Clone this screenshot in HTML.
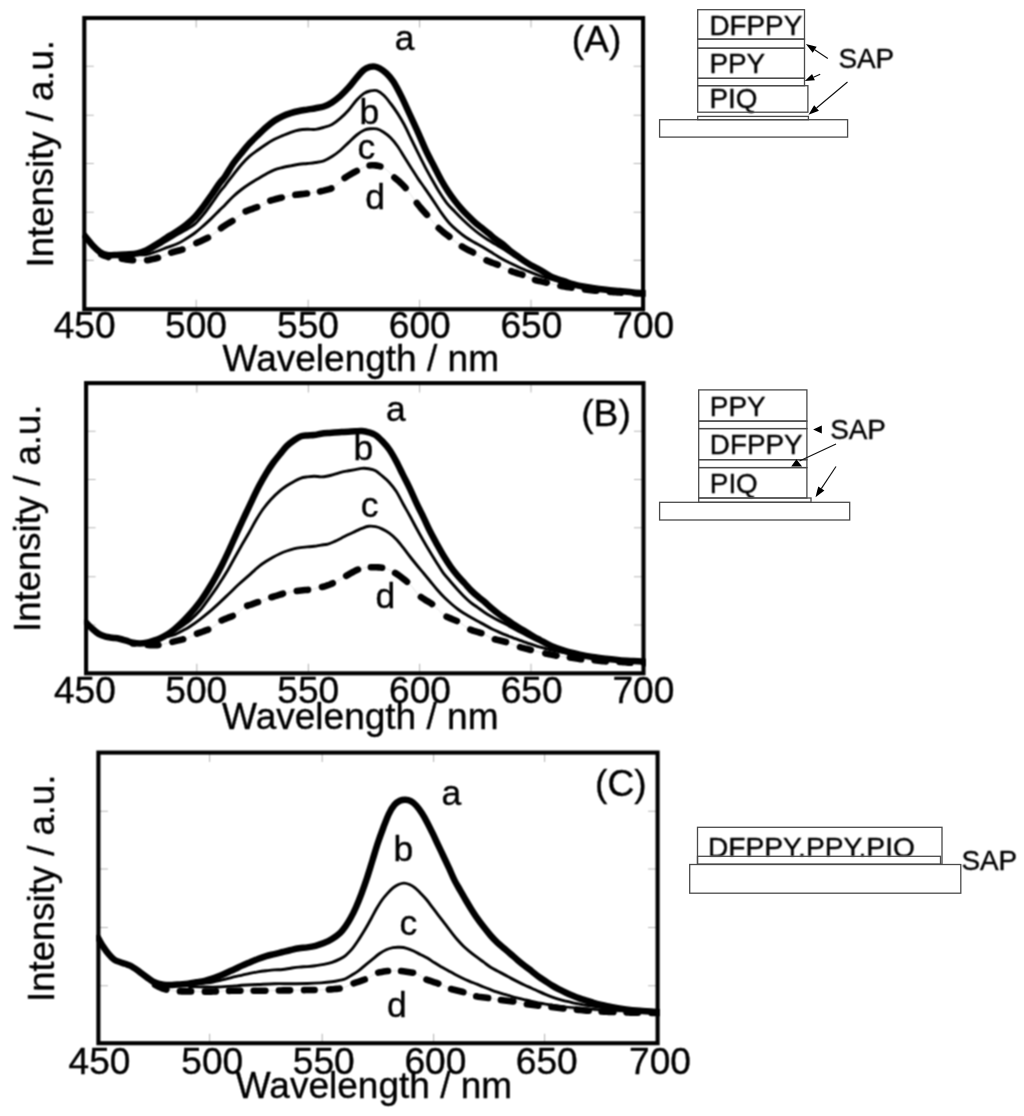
<!DOCTYPE html>
<html lang="en"><head><meta charset="utf-8">
<title>Emission spectra of layered SAP films</title>
<style>
html,body{margin:0;padding:0;background:#fff;}
body{width:1024px;height:1116px;overflow:hidden;}
svg{display:block;}
svg text{font-family:"Liberation Sans", Arial, Helvetica, sans-serif;fill:#000;stroke:#000;stroke-width:0.35px;stroke-linejoin:round;}
</style></head><body>
<svg width="1024" height="1116" viewBox="0 0 1024 1116" role="img" aria-label="Emission spectra (A), (B), (C) with layer diagrams">
<rect width="1024" height="1116" fill="#fff"/>
<defs>
<filter id="soft" x="0" y="0" width="1024" height="1116" filterUnits="userSpaceOnUse" color-interpolation-filters="sRGB"><feConvolveMatrix order="3" kernelMatrix="1 2 1 2 4 2 1 2 1"/></filter>
<clipPath id="clipA"><rect x="82.1" y="18" width="563.4" height="291.2"/></clipPath>
<clipPath id="clipB"><rect x="83.9" y="383.1" width="562" height="290.2"/></clipPath>
<clipPath id="clipC"><rect x="96.2" y="752.6" width="563.8" height="290.6"/></clipPath>
<clipPath id="clipD"><rect x="698" y="827" width="244" height="29.3"/></clipPath>
</defs>
<g filter="url(#soft)">
<rect width="1024" height="1116" fill="#fff"/>
<g id="plotA">
<g stroke="#b8b8b8" stroke-width="1.1" fill="none">
<path d="M84.3 66.3h9.5 M643.1 66.3h-9.5"/>
<path d="M84.3 115.3h9.5 M643.1 115.3h-9.5"/>
<path d="M84.3 163.5h9.5 M643.1 163.5h-9.5"/>
<path d="M84.3 212.3h9.5 M643.1 212.3h-9.5"/>
<path d="M84.3 260.4h9.5 M643.1 260.4h-9.5"/>
<path d="M196.2 18v9.5 M196.2 309.2v-9.5"/>
<path d="M308.2 18v9.5 M308.2 309.2v-9.5"/>
<path d="M419.6 18v9.5 M419.6 309.2v-9.5"/>
<path d="M531 18v9.5 M531 309.2v-9.5"/>
</g>
<g fill="none" stroke="#000" stroke-linejoin="round" clip-path="url(#clipA)">
<path d="M137.1 254.8C138.7 254.77 143.5 255.15 146.7 254.6C149.9 254.05 152.87 252.7 156.3 251.5C159.73 250.3 163.63 248.77 167.3 247.4C170.97 246.03 175.1 244.78 178.3 243.3C181.5 241.82 183.75 240.22 186.5 238.5C189.25 236.78 192.05 235.07 194.8 233C197.55 230.93 200.27 228.5 203 226.1C205.73 223.7 208.47 221.22 211.2 218.6C213.93 215.98 217.1 212.68 219.4 210.4C221.7 208.12 222.7 207.22 225 204.9C227.3 202.58 230.45 199.07 233.2 196.5C235.95 193.93 238.75 191.62 241.5 189.5C244.25 187.38 246.97 185.58 249.7 183.8C252.43 182.02 255.15 180.43 257.9 178.8C260.65 177.17 263.45 175.5 266.2 174C268.95 172.5 271.67 170.88 274.4 169.8C277.13 168.72 279.87 168.17 282.6 167.5C285.33 166.83 288.05 166.33 290.8 165.8C293.55 165.27 296.35 164.68 299.1 164.3C301.85 163.92 304.57 163.8 307.3 163.5C310.03 163.2 312.75 162.95 315.5 162.5C318.25 162.05 321.05 161.8 323.8 160.8C326.55 159.8 329.27 158.22 332 156.5C334.73 154.78 337.45 152.82 340.2 150.5C342.95 148.18 345.75 145.18 348.5 142.6C351.25 140.02 354.12 137.07 356.7 135C359.28 132.93 361.78 131.23 364 130.2C366.22 129.17 367.85 129.02 370 128.8C372.15 128.58 374.62 128.32 376.9 128.9C379.18 129.48 381.42 130.82 383.7 132.3C385.98 133.78 388.32 135.52 390.6 137.8C392.88 140.08 395.12 142.8 397.4 146C399.68 149.2 402 153.33 404.3 157C406.6 160.67 408.92 164.4 411.2 168C413.48 171.6 415.72 175.2 418 178.6C420.28 182 422.47 184.9 424.9 188.4C427.33 191.9 429.88 195.57 432.6 199.6C435.32 203.63 438.4 208.67 441.2 212.6C444 216.53 446.67 220.15 449.4 223.2C452.13 226.25 454.87 228.55 457.6 230.9C460.33 233.25 463.05 235.42 465.8 237.3C468.55 239.18 471.35 240.62 474.1 242.2C476.85 243.78 479.57 245.2 482.3 246.8C485.03 248.4 487.75 250.1 490.5 251.8C493.25 253.5 496.05 255.38 498.8 257C501.55 258.62 503.98 259.97 507 261.5C510.02 263.03 513.3 264.55 516.9 266.2C520.5 267.85 524.7 269.77 528.6 271.4C532.5 273.03 536.57 274.73 540.3 276C544.03 277.27 546.95 277.87 551 279C555.05 280.13 560 281.58 564.6 282.8C569.2 284.02 576.27 285.72 578.6 286.3" stroke-width="2.9"/>
<path d="M137.1 254.4C138.48 254.1 142.65 253.57 145.4 252.6C148.15 251.63 150.87 250.03 153.6 248.6C156.33 247.17 159.07 245.6 161.8 244C164.53 242.4 167.25 240.67 170 239C172.75 237.33 175.55 235.58 178.3 234C181.05 232.42 183.75 231.13 186.5 229.5C189.25 227.87 192.05 226.58 194.8 224.2C197.55 221.82 200.27 218.53 203 215.2C205.73 211.87 208.47 207.98 211.2 204.2C213.93 200.42 217.1 195.6 219.4 192.5C221.7 189.4 222.7 188.55 225 185.6C227.3 182.65 230.45 178.32 233.2 174.8C235.95 171.28 238.75 167.6 241.5 164.5C244.25 161.4 246.97 158.62 249.7 156.2C252.43 153.78 255.15 152 257.9 150C260.65 148 263.45 145.98 266.2 144.2C268.95 142.42 271.67 140.73 274.4 139.3C277.13 137.87 279.87 136.77 282.6 135.6C285.33 134.43 288.05 133.23 290.8 132.3C293.55 131.37 296.35 130.5 299.1 130C301.85 129.5 304.57 129.4 307.3 129.3C310.03 129.2 312.75 129.72 315.5 129.4C318.25 129.08 321.05 128.22 323.8 127.4C326.55 126.58 329.27 126 332 124.5C334.73 123 337.45 120.78 340.2 118.4C342.95 116.02 345.75 113.27 348.5 110.2C351.25 107.13 354.12 102.8 356.7 100C359.28 97.2 361.78 94.9 364 93.4C366.22 91.9 367.85 91.45 370 91C372.15 90.55 374.62 89.98 376.9 90.7C379.18 91.42 381.42 93.17 383.7 95.3C385.98 97.43 388.32 100.53 390.6 103.5C392.88 106.47 395.12 109.55 397.4 113.1C399.68 116.65 402 120.48 404.3 124.8C406.6 129.12 408.92 134.32 411.2 139C413.48 143.68 415.72 148.3 418 152.9C420.28 157.5 422.62 162.25 424.9 166.6C427.18 170.95 429.43 174.97 431.7 179C433.97 183.03 436.02 186.83 438.5 190.8C440.98 194.77 443.87 199.32 446.6 202.8C449.33 206.28 452.15 208.83 454.9 211.7C457.65 214.57 460.37 217.37 463.1 220C465.83 222.63 468.55 225.13 471.3 227.5C474.05 229.87 476.85 232.15 479.6 234.2C482.35 236.25 485.07 238.07 487.8 239.8C490.53 241.53 493.47 243.1 496 244.6C498.53 246.1 500.67 247.33 503 248.8C505.33 250.27 507.67 251.9 510 253.4C512.33 254.9 514.67 256.33 517 257.8C519.33 259.27 521.67 260.8 524 262.2C526.33 263.6 528.3 264.77 531 266.2C533.7 267.63 538.67 270.03 540.2 270.8" stroke-width="2.9"/>
<path d="M100 253.5C101.17 254.02 104.83 255.88 107 256.6C109.17 257.32 110.95 257.5 113 257.8C115.05 258.1 116.88 258.1 119.3 258.4C121.72 258.7 124.75 259.27 127.5 259.6C130.25 259.93 132.82 260.27 135.8 260.4C138.78 260.53 142.53 260.63 145.4 260.4C148.27 260.17 150.48 259.57 153 259C155.52 258.43 157.77 257.97 160.5 257C163.23 256.03 166.65 254.2 169.4 253.2C172.15 252.2 174.38 251.77 177 251C179.62 250.23 182.27 249.73 185.1 248.6C187.93 247.47 191.18 245.55 194 244.2C196.82 242.85 199.25 241.83 202 240.5C204.75 239.17 207.72 237.98 210.5 236.2C213.28 234.42 216.03 231.75 218.7 229.8C221.37 227.85 223.87 226.2 226.5 224.5C229.13 222.8 231.68 221.58 234.5 219.6C237.32 217.62 240.48 214.37 243.4 212.6C246.32 210.83 249.13 210.12 252 209C254.87 207.88 257.92 207.13 260.6 205.9C263.28 204.67 265.53 202.75 268.1 201.6C270.67 200.45 273.25 199.77 276 199C278.75 198.23 281.8 197.63 284.6 197C287.4 196.37 290.07 195.67 292.8 195.2C295.53 194.73 298.15 194.55 301 194.2C303.85 193.85 307.03 193.5 309.9 193.1C312.77 192.7 315.52 192.32 318.2 191.8C320.88 191.28 323.38 190.77 326 190C328.62 189.23 331.07 189 333.9 187.2C336.73 185.4 340.15 181.4 343 179.2C345.85 177 348.27 175.6 351 174C353.73 172.4 357.07 170.8 359.4 169.6C361.73 168.4 363.23 167.5 365 166.8C366.77 166.1 368 165.6 370 165.4C372 165.2 374.72 165.23 377 165.6C379.28 165.97 381.78 166.62 383.7 167.6C385.62 168.58 386.9 170.02 388.5 171.5C390.1 172.98 391.38 174.72 393.3 176.5C395.22 178.28 397.63 179.92 400 182.2C402.37 184.48 405.22 187.43 407.5 190.2C409.78 192.97 411.62 196 413.7 198.8C415.78 201.6 417.83 204.38 420 207C422.17 209.62 423.97 211.37 426.7 214.5C429.43 217.63 433.68 222.92 436.4 225.8C439.12 228.68 440.72 229.88 443 231.8C445.28 233.72 447.32 235.1 450.1 237.3C452.88 239.5 456.88 243 459.7 245C462.52 247 464.6 247.97 467 249.3C469.4 250.63 471.27 251.35 474.1 253C476.93 254.65 481.1 257.63 484 259.2C486.9 260.77 489 261.38 491.5 262.4C494 263.42 496.05 263.97 499 265.3C501.95 266.63 506.25 269.12 509.2 270.4C512.15 271.68 514.18 272.17 516.7 273C519.22 273.83 521.53 274.33 524.3 275.4C527.07 276.47 530.43 278.38 533.3 279.4C536.17 280.42 538.77 280.85 541.5 281.5C544.23 282.15 546.95 282.67 549.7 283.3C552.45 283.93 555.28 284.72 558 285.3C560.72 285.88 563.27 286.35 566 286.8C568.73 287.25 571.62 287.6 574.4 288C577.18 288.4 579.93 288.83 582.7 289.2C585.47 289.57 588.25 289.9 591 290.2C593.75 290.5 596.47 290.75 599.2 291C601.93 291.25 604.67 291.48 607.4 291.7C610.13 291.92 612.85 292.12 615.6 292.3C618.35 292.48 621.15 292.65 623.9 292.8C626.65 292.95 628.33 293.07 632.1 293.2C635.87 293.33 644.1 293.53 646.5 293.6" stroke="#e2e2e2" stroke-width="0.9"/>
<path d="M101.3 254.3L103.12 255.19L104.89 255.89L106.59 256.46L108.4 257.01M121.8 258.76L123.8 259.07L125.93 259.39L128.01 259.66L130.04 259.91L132.07 260.13L133 260.21M147.2 260.2L148.87 259.92L150.7 259.53L152.53 259.11L154.39 258.69L156.21 258.26L158 257.79M171.2 252.6L173.25 252.01L175.1 251.53L177 251L178.97 250.46L180.97 249.94L182.4 249.53M196.4 243.08L198.03 242.34L199.99 241.45L202 240.5L204.1 239.52L205.7 238.77L207.31 237.99L208 237.64M221 228.16L222.61 227.06L224.55 225.77L226.5 224.5L228.46 223.3L230.43 222.16L232.4 220.98M245.7 211.39L247.72 210.56L249.32 209.97L250.93 209.4L252.54 208.79L254.18 208.22L255.82 207.67L257.2 207.22M270.3 200.72L271.98 200.16L273.97 199.57L276 199L278.11 198.45L279.74 198.07L281.37 197.71L281.8 197.62M295.4 194.82L297.36 194.6L299.42 194.38L301.54 194.13L303.19 193.94L304.88 193.74L306.58 193.53L307 193.48M320 191.45L321.64 191.1L323.57 190.65L325.51 190.14L327.46 189.61L329.38 189.12L331.34 188.49L331.4 188.47M344.6 178.01L346.55 176.69L348.51 175.47L350.49 174.3L352.59 173.1L354.24 172.22L355.9 171.37L356.8 170.91M369.6 165.45L371.62 165.3L373.39 165.29L375.22 165.39L377 165.6L378.74 165.93L380.4 166.34M394.4 177.47L396.06 178.82L397.78 180.23L399.56 181.78L401.38 183.55L403.3 185.51L405.23 187.58L405.6 188M416.8 202.94L418.79 205.51L420.4 207.48L422.35 209.7L424.37 211.9L426.2 213.93L427 214.85M438.7 228.11L440.62 229.82L442.58 231.45L444.26 232.83L445.94 234.12L447.68 235.44L449.4 236.75M461.9 246.46L463.51 247.4L465.24 248.35L467 249.3L468.72 250.21L470.39 251.03L472.13 251.91L473.1 252.43M486.5 260.42L488.35 261.18L490.13 261.86L491.96 262.59L493.75 263.25L495.53 263.9L497.43 264.62L497.8 264.78M511.2 271.21L513.11 271.87L514.88 272.42L516.7 273L518.56 273.58L520.41 274.11L522.3 274.69L522.4 274.73M535 279.95L536.94 280.47L538.96 280.93L540.99 281.38L543.04 281.85L545.08 282.3L546.8 282.66M560.4 285.79L562.49 286.19L564.48 286.54L566.51 286.88L568.6 287.2L570.71 287.49L571.6 287.61M585 289.5L586.86 289.72L588.93 289.97L591 290.2L593.06 290.42L595.11 290.62L596.4 290.74M609.8 291.89L611.49 292.01L613.54 292.16L615.6 292.3L617.67 292.43L619.75 292.56L621.2 292.65M634.6 293.28L636.63 293.34L638.75 293.4L640.86 293.45L642.86 293.5L644.6 293.55L646 293.59" stroke-width="6.6" stroke-linecap="round"/>
<path d="M83.5 234.5C83.98 235.05 84.78 235.88 86.4 237.8C88.02 239.72 90.92 243.6 93.2 246C95.48 248.4 97.8 250.72 100.1 252.2C102.4 253.68 104.25 254.43 107 254.9C109.75 255.37 113.4 255.08 116.6 255C119.8 254.92 122.78 254.67 126.2 254.4C129.62 254.13 133.9 254.03 137.1 253.4C140.3 252.77 142.65 251.83 145.4 250.6C148.15 249.37 150.87 247.6 153.6 246C156.33 244.4 159.07 242.73 161.8 241C164.53 239.27 167.25 237.35 170 235.6C172.75 233.85 175.55 232.35 178.3 230.5C181.05 228.65 183.75 226.75 186.5 224.5C189.25 222.25 192.05 219.93 194.8 217C197.55 214.07 200.27 210.48 203 206.9C205.73 203.32 208.47 199.4 211.2 195.5C213.93 191.6 217.1 186.67 219.4 183.5C221.7 180.33 222.7 179.83 225 176.5C227.3 173.17 230.45 167.42 233.2 163.5C235.95 159.58 238.75 156.37 241.5 153C244.25 149.63 246.97 146.28 249.7 143.3C252.43 140.32 255.15 137.77 257.9 135.1C260.65 132.43 263.45 129.68 266.2 127.3C268.95 124.92 271.67 122.65 274.4 120.8C277.13 118.95 279.87 117.48 282.6 116.2C285.33 114.92 288.05 113.97 290.8 113.1C293.55 112.23 296.35 111.58 299.1 111C301.85 110.42 304.57 110.07 307.3 109.6C310.03 109.13 312.75 108.72 315.5 108.2C318.25 107.68 321.05 107.47 323.8 106.5C326.55 105.53 329.27 104.13 332 102.4C334.73 100.67 337.45 98.55 340.2 96.1C342.95 93.65 345.75 90.78 348.5 87.7C351.25 84.62 354.12 80.58 356.7 77.6C359.28 74.62 361.78 71.58 364 69.8C366.22 68.02 368.17 67.43 370 66.9C371.83 66.37 373.42 66.37 375 66.6C376.58 66.83 377.58 67.18 379.5 68.3C381.42 69.42 384.2 71.1 386.5 73.3C388.8 75.5 390.8 77.62 393.3 81.5C395.8 85.38 398.75 91.1 401.5 96.6C404.25 102.1 407.05 108.55 409.8 114.5C412.55 120.45 415.27 126.22 418 132.3C420.73 138.38 423.48 145.25 426.2 151C428.92 156.75 431.8 161.97 434.3 166.8C436.8 171.63 438.92 175.93 441.2 180C443.48 184.07 445.72 187.72 448 191.2C450.28 194.68 452.62 197.92 454.9 200.9C457.18 203.88 459.42 206.53 461.7 209.1C463.98 211.67 466.35 214.05 468.6 216.3C470.85 218.55 472.92 220.6 475.2 222.6C477.48 224.6 479.97 226.43 482.3 228.3C484.63 230.17 487 231.98 489.2 233.8C491.4 235.62 493.22 237.45 495.5 239.2C497.78 240.95 500.48 242.37 502.9 244.3C505.32 246.23 507.68 248.92 510 250.8C512.32 252.68 514.52 253.97 516.8 255.6C519.08 257.23 521.33 259 523.7 260.6C526.07 262.2 528.25 263.63 531 265.2C533.75 266.77 536.83 268.08 540.2 270C543.57 271.92 547.13 274.8 551.2 276.7C555.27 278.6 560.03 279.9 564.6 281.4C569.17 282.9 573.98 284.6 578.6 285.7C583.22 286.8 587.73 287.32 592.3 288C596.87 288.68 601.43 289.28 606 289.8C610.57 290.32 615.12 290.67 619.7 291.1C624.28 291.53 629.03 292.05 633.5 292.4C637.97 292.75 644.33 293.07 646.5 293.2" stroke-width="6.5"/>
</g>
<rect x="84.3" y="18" width="558.8" height="291.2" fill="none" stroke="#000" stroke-width="4.1"/>
<text transform="translate(84.6 338.3) scale(1.02 1)" font-size="36.4" text-anchor="middle">450</text>
<text transform="translate(196 338.3) scale(1.02 1)" font-size="36.4" text-anchor="middle">500</text>
<text transform="translate(308 338.3) scale(1.02 1)" font-size="36.4" text-anchor="middle">550</text>
<text transform="translate(419.8 338.3) scale(1.02 1)" font-size="36.4" text-anchor="middle">600</text>
<text transform="translate(531.4 338.3) scale(1.02 1)" font-size="36.4" text-anchor="middle">650</text>
<text transform="translate(643.3 338.3) scale(1.02 1)" font-size="36.4" text-anchor="middle">700</text>
<text transform="translate(222.6 370.5) scale(1.02 1)" font-size="36.3" text-anchor="start">Wavelength / nm</text>
<text transform="translate(52.8 267.4) rotate(-90) scale(1 1)" font-size="36.5" text-anchor="start">Intensity / a.u.</text>
<text transform="translate(571.7 52.2)" font-size="37.2" text-anchor="start">(A)</text>
<text transform="translate(394.7 50.2)" font-size="35.5" text-anchor="start">a</text>
<text transform="translate(359.5 124.2)" font-size="35.5" text-anchor="start">b</text>
<text transform="translate(357.6 158.8)" font-size="35.5" text-anchor="start">c</text>
<text transform="translate(365.3 208.5)" font-size="35.5" text-anchor="start">d</text>
</g>
<g id="plotB">
<g stroke="#b8b8b8" stroke-width="1.1" fill="none">
<path d="M86.1 431.3h9.5 M643.5 431.3h-9.5"/>
<path d="M86.1 479.5h9.5 M643.5 479.5h-9.5"/>
<path d="M86.1 527.8h9.5 M643.5 527.8h-9.5"/>
<path d="M86.1 576.8h9.5 M643.5 576.8h-9.5"/>
<path d="M86.1 625h9.5 M643.5 625h-9.5"/>
<path d="M196.8 383.1v9.5 M196.8 673.3v-9.5"/>
<path d="M308.4 383.1v9.5 M308.4 673.3v-9.5"/>
<path d="M419.6 383.1v9.5 M419.6 673.3v-9.5"/>
<path d="M531 383.1v9.5 M531 673.3v-9.5"/>
</g>
<g fill="none" stroke="#000" stroke-linejoin="round" clip-path="url(#clipB)">
<path d="M167.3 636.6C168.55 636.27 172.35 635.53 174.8 634.6C177.25 633.67 179.53 632.32 182 631C184.47 629.68 186.7 628.57 189.6 626.7C192.5 624.83 196.12 622.27 199.4 619.8C202.68 617.33 206.02 614.68 209.3 611.9C212.58 609.12 215.82 606.13 219.1 603.1C222.38 600.07 225.72 596.83 229 593.7C232.28 590.57 235.52 587.32 238.8 584.3C242.08 581.28 246 578.02 248.7 575.6C251.4 573.18 253.23 571.38 255 569.8C256.77 568.22 257.43 567.52 259.3 566.1C261.17 564.68 263.92 562.78 266.2 561.3C268.48 559.82 270.72 558.47 273 557.2C275.28 555.93 277.62 554.73 279.9 553.7C282.18 552.67 284.42 551.8 286.7 551C288.98 550.2 291.32 549.47 293.6 548.9C295.88 548.33 298.12 547.93 300.4 547.6C302.68 547.27 305 547.13 307.3 546.9C309.6 546.67 311.92 546.5 314.2 546.2C316.48 545.9 318.72 545.45 321 545.1C323.28 544.75 325.62 544.72 327.9 544.1C330.18 543.48 332.42 542.42 334.7 541.4C336.98 540.38 339.3 539.15 341.6 538C343.9 536.85 346.22 535.6 348.5 534.5C350.78 533.4 353.07 532.42 355.3 531.4C357.53 530.38 359.67 529.25 361.9 528.4C364.13 527.55 366.42 526.58 368.7 526.3C370.98 526.02 373.32 526.23 375.6 526.7C377.88 527.17 380.12 528.02 382.4 529.1C384.68 530.18 387 531.5 389.3 533.2C391.6 534.9 393.92 536.93 396.2 539.3C398.48 541.67 400.72 544.53 403 547.4C405.28 550.27 407.62 553.57 409.9 556.5C412.18 559.43 414.42 562.2 416.7 565C418.98 567.8 421.38 570.63 423.6 573.3C425.82 575.97 427.77 578.3 430 581C432.23 583.7 434.63 586.78 437 589.5C439.37 592.22 441.78 594.88 444.2 597.3C446.62 599.72 449.15 601.97 451.5 604C453.85 606.03 456.02 607.83 458.3 609.5C460.58 611.17 462.92 612.58 465.2 614C467.48 615.42 469.72 616.7 472 618C474.28 619.3 476.6 620.53 478.9 621.8C481.2 623.07 483.52 624.37 485.8 625.6C488.08 626.83 490.32 628.08 492.6 629.2C494.88 630.32 497.22 631.3 499.5 632.3C501.78 633.3 504.02 634.28 506.3 635.2C508.58 636.12 510.92 636.93 513.2 637.8C515.48 638.67 517.7 639.57 520 640.4C522.3 641.23 524.1 641.8 527 642.8C529.9 643.8 534.28 645.43 537.4 646.4C540.52 647.37 542.77 647.87 545.7 648.6C548.63 649.33 551.78 650.1 555 650.8C558.22 651.5 561.07 652.07 565 652.8C568.93 653.53 576.33 654.8 578.6 655.2" stroke-width="2.9"/>
<path d="M160.4 639C161.98 638.1 166.68 635.48 169.9 633.6C173.12 631.72 176.27 630 179.7 627.7C183.13 625.4 187.05 622.75 190.5 619.8C193.95 616.85 197.27 613.62 200.4 610C203.53 606.38 206.55 601.87 209.3 598.1C212.05 594.33 214.78 590.5 216.9 587.4C219.02 584.3 220.05 582.62 222 579.5C223.95 576.38 226.35 572.58 228.6 568.7C230.85 564.82 233.2 560.32 235.5 556.2C237.8 552.08 240.1 548 242.4 544C244.7 540 247 536.23 249.3 532.2C251.6 528.17 253.9 523.67 256.2 519.8C258.5 515.93 260.65 512.4 263.1 509C265.55 505.6 268.1 502.42 270.9 499.4C273.7 496.38 277.27 493.17 279.9 490.9C282.53 488.63 284.42 487.33 286.7 485.8C288.98 484.27 291.32 482.95 293.6 481.7C295.88 480.45 298.12 479.1 300.4 478.3C302.68 477.5 305 477.25 307.3 476.9C309.6 476.55 311.92 476.2 314.2 476.2C316.48 476.2 318.72 476.93 321 476.9C323.28 476.87 325.62 476.45 327.9 476C330.18 475.55 332.42 474.85 334.7 474.2C336.98 473.55 339.3 472.67 341.6 472.1C343.9 471.53 346.22 471.22 348.5 470.8C350.78 470.38 353.07 470 355.3 469.6C357.53 469.2 359.67 468.55 361.9 468.4C364.13 468.25 366.42 468.3 368.7 468.7C370.98 469.1 373.32 469.55 375.6 470.8C377.88 472.05 380.12 474.27 382.4 476.2C384.68 478.13 387 479.88 389.3 482.4C391.6 484.92 393.92 487.75 396.2 491.3C398.48 494.85 400.72 499.58 403 503.7C405.28 507.82 407.68 511.95 409.9 516C412.12 520.05 414.17 524.08 416.3 528C418.43 531.92 420.53 535.7 422.7 539.5C424.87 543.3 427.05 547.05 429.3 550.8C431.55 554.55 433.92 558.37 436.2 562C438.48 565.63 440.7 569.43 443 572.6C445.3 575.77 447.67 578.27 450 581C452.33 583.73 454.7 586.47 457 589C459.3 591.53 461.55 593.98 463.8 596.2C466.05 598.42 468.22 600.43 470.5 602.3C472.78 604.17 475.2 605.75 477.5 607.4C479.8 609.05 482.02 610.7 484.3 612.2C486.58 613.7 488.78 615 491.2 616.4C493.62 617.8 496.33 619.28 498.8 620.6C501.27 621.92 503.63 623.02 506 624.3C508.37 625.58 510.67 627.02 513 628.3C515.33 629.58 517.67 630.78 520 632C522.33 633.22 524.17 634.17 527 635.6C529.83 637.03 533 638.77 537 640.6C541 642.43 548.67 645.6 551 646.6" stroke-width="2.9"/>
<path d="M133 643.4C135.28 643.67 142.87 644.7 146.7 645C150.53 645.3 153.28 645.33 156 645.2C158.72 645.07 160.68 644.65 163 644.2C165.32 643.75 167.4 643.12 169.9 642.5C172.4 641.88 175.22 641.2 178 640.5C180.78 639.8 183.85 639.28 186.6 638.3C189.35 637.32 191.68 635.77 194.5 634.6C197.32 633.43 200.47 632.48 203.5 631.3C206.53 630.12 210.02 629.13 212.7 627.5C215.38 625.87 217.05 623.12 219.6 621.5C222.15 619.88 225.2 619.02 228 617.8C230.8 616.58 233.7 615.97 236.4 614.2C239.1 612.43 241.6 608.87 244.2 607.2C246.8 605.53 249.37 605.17 252 604.2C254.63 603.23 257.17 602.43 260 601.4C262.83 600.37 266.17 598.97 269 598C271.83 597.03 274.25 596.43 277 595.6C279.75 594.77 282.67 593.72 285.5 593C288.33 592.28 291.17 591.75 294 591.3C296.83 590.85 299.67 590.6 302.5 590.3C305.33 590 308.17 589.95 311 589.5C313.83 589.05 316.75 588.28 319.5 587.6C322.25 586.92 324.88 586.33 327.5 585.4C330.12 584.47 332.52 583.33 335.2 582C337.88 580.67 340.8 578.98 343.6 577.4C346.4 575.82 349.17 573.97 352 572.5C354.83 571.03 357.82 569.45 360.6 568.6C363.38 567.75 366.05 567.62 368.7 567.4C371.35 567.18 373.87 567.17 376.5 567.3C379.13 567.43 381.83 567.5 384.5 568.2C387.17 568.9 389.92 570.17 392.5 571.5C395.08 572.83 397.03 573.98 400 576.2C402.97 578.42 407.22 581.67 410.3 584.8C413.38 587.93 415.88 592.42 418.5 595C421.12 597.58 423.48 598.6 426 600.3C428.52 602 430.62 602.75 433.6 605.2C436.58 607.65 440.83 612.7 443.9 615C446.97 617.3 449.37 617.77 452 619C454.63 620.23 456.93 620.77 459.7 622.4C462.47 624.03 465.88 627.28 468.6 628.8C471.32 630.32 473.48 630.63 476 631.5C478.52 632.37 480.93 632.83 483.7 634C486.47 635.17 489.72 637.37 492.6 638.5C495.48 639.63 498.27 640.07 501 640.8C503.73 641.53 506.13 641.93 509 642.9C511.87 643.87 515.37 645.63 518.2 646.6C521.03 647.57 523.48 648.03 526 648.7C528.52 649.37 530.48 649.9 533.3 650.6C536.12 651.3 539.95 652.23 542.9 652.9C545.85 653.57 548.25 654.05 551 654.6C553.75 655.15 556.75 655.8 559.4 656.2C562.05 656.6 564.22 656.63 566.9 657C569.58 657.37 572.65 657.97 575.5 658.4C578.35 658.83 581.2 659.33 584 659.6C586.8 659.87 589.55 659.78 592.3 660C595.05 660.22 597.75 660.63 600.5 660.9C603.25 661.17 606.28 661.48 608.8 661.6C611.32 661.72 613.07 661.5 615.6 661.6C618.13 661.7 621.25 662 624 662.2C626.75 662.4 628.35 662.63 632.1 662.8C635.85 662.97 644.1 663.13 646.5 663.2" stroke="#e2e2e2" stroke-width="0.9"/>
<path d="M133 643.4L133.9 643.51M147.8 645.08L150.01 645.21L151.77 645.26L153.41 645.27L155.49 645.22L157.46 645.1L158.4 644.99M172.4 641.89L174.36 641.4L176.43 640.89L178.53 640.37L180.13 640L181.77 639.63L183.2 639.29M197 633.64L198.92 632.96L200.64 632.35L202.36 631.73L204.07 631.08L205.84 630.44L207.63 629.79L208.2 629.58M221.6 620.41L223.71 619.5L225.32 618.87L226.94 618.24L229.05 617.37L231.18 616.59L232.8 615.99M247.2 605.74L249.06 605.13L251.02 604.54L252.98 603.84L254.94 603.16L256.92 602.49L258 602.11M271.4 597.23L273.03 596.75L274.99 596.19L277 595.6L279.09 594.94L281.22 594.26L282.83 593.75L283 593.7M296.8 590.91L298.78 590.69L300.91 590.47L303.03 590.25L305.16 590.07L307.28 589.92L308 589.86M322 586.99L324.05 586.46L326.03 585.89L327.99 585.22L329.9 584.47L331.8 583.64L332.8 583.17M346.2 575.87L348.31 574.59L350.41 573.36L352.53 572.22L354.15 571.39L355.78 570.58L357.4 569.82L358 569.56M370.9 567.26L372.61 567.22L374.54 567.23L376.5 567.3L378.49 567.4L380.49 567.54L382.1 567.72M395.1 572.92L397 574.09L398.93 575.42L400.57 576.63L402.43 578.04L404.43 579.61L406.47 581.29L407 581.74M420.9 597.04L422.75 598.27L424.6 599.4L426.47 600.61L428.28 601.7L430.08 602.74L432.01 603.98L432.1 604.05M446.6 616.69L448.6 617.6L450.54 618.37L452.49 619.22L454.4 620.01L456.27 620.74L456.9 621M470.3 629.63L471.93 630.25L473.72 630.8L475.53 631.34L477.41 631.95L479.28 632.5L481.2 633.08L481.4 633.15M494.8 639.25L496.86 639.8L498.94 640.29L501 640.8L503 641.3L504.95 641.76L506 642.02M520 647.17L521.74 647.64L523.65 648.11L525.53 648.58L527.37 649.06L529.1 649.52L530.8 649.97M545.3 653.43L547.03 653.79L548.99 654.2L551 654.6L553.1 655.03L554.7 655.35L556.3 655.66L556.5 655.7M569.9 657.47L571.69 657.77L573.33 658.05L574.96 658.32L576.57 658.57L578.17 658.82L580.3 659.14L581.2 659.27M594.6 660.22L596.4 660.43L598.45 660.68L600.5 660.9L602.6 661.11L604.21 661.26L605.8 661.4M619.4 661.84L621.34 661.99L622.95 662.12L624.98 662.28L626.78 662.43L628.61 662.59L630.6 662.72M644.1 663.14L645.98 663.19L646.5 663.2" stroke-width="6.6" stroke-linecap="round"/>
<path d="M84 619.5C84.4 620.07 85.08 621.42 86.4 622.9C87.72 624.38 89.85 626.57 91.9 628.4C93.95 630.23 96.42 632.53 98.7 633.9C100.98 635.27 103.32 635.97 105.6 636.6C107.88 637.23 110.12 637.35 112.4 637.7C114.68 638.05 117 638.2 119.3 638.7C121.6 639.2 123.92 640.02 126.2 640.7C128.48 641.38 130.72 642.33 133 642.8C135.28 643.27 137.62 643.5 139.9 643.5C142.18 643.5 144.42 643.27 146.7 642.8C148.98 642.33 151.32 641.47 153.6 640.7C155.88 639.93 158.12 639.23 160.4 638.2C162.68 637.17 165 635.97 167.3 634.5C169.6 633.03 171.92 631.25 174.2 629.4C176.48 627.55 178.72 625.6 181 623.4C183.28 621.2 185.62 618.68 187.9 616.2C190.18 613.72 192.42 611.27 194.7 608.5C196.98 605.73 199.3 602.85 201.6 599.6C203.9 596.35 206.22 592.68 208.5 589C210.78 585.32 213.02 581.58 215.3 577.5C217.58 573.42 220.08 568.67 222.2 564.5C224.32 560.33 226.17 556.42 228 552.5C229.83 548.58 231.42 544.95 233.2 541C234.98 537.05 236.63 533.3 238.7 528.8C240.77 524.3 243.32 518.87 245.6 514C247.88 509.13 250.12 504.33 252.4 499.6C254.68 494.87 257 489.97 259.3 485.6C261.6 481.23 263.92 477.17 266.2 473.4C268.48 469.63 270.72 466.18 273 463C275.28 459.82 277.62 457.12 279.9 454.3C282.18 451.48 284.42 448.38 286.7 446.1C288.98 443.82 291.32 442.2 293.6 440.6C295.88 439 298.12 437.37 300.4 436.5C302.68 435.63 305 435.65 307.3 435.4C309.6 435.15 311.92 435.28 314.2 435C316.48 434.72 318.72 434.03 321 433.7C323.28 433.37 325.62 433.18 327.9 433C330.18 432.82 332.42 432.75 334.7 432.6C336.98 432.45 339.3 432.25 341.6 432.1C343.9 431.95 346.22 431.83 348.5 431.7C350.78 431.57 353.07 431.4 355.3 431.3C357.53 431.2 359.67 430.93 361.9 431.1C364.13 431.27 366.42 431.63 368.7 432.3C370.98 432.97 373.32 433.6 375.6 435.1C377.88 436.6 380.12 438.9 382.4 441.3C384.68 443.7 387 446.18 389.3 449.5C391.6 452.82 393.92 456.97 396.2 461.2C398.48 465.43 400.72 470.33 403 474.9C405.28 479.47 407.62 483.8 409.9 488.6C412.18 493.4 414.42 498.87 416.7 503.7C418.98 508.53 421.33 512.92 423.6 517.6C425.87 522.28 428.03 527.3 430.3 531.8C432.57 536.3 434.92 540.48 437.2 544.6C439.48 548.72 441.72 552.75 444 556.5C446.28 560.25 448.63 563.92 450.9 567.1C453.17 570.28 455.33 572.93 457.6 575.6C459.87 578.27 462.22 580.6 464.5 583.1C466.78 585.6 469.02 588.32 471.3 590.6C473.58 592.88 475.92 594.85 478.2 596.8C480.48 598.75 482.72 600.35 485 602.3C487.28 604.25 489.6 606.55 491.9 608.5C494.2 610.45 496.52 612.28 498.8 614C501.08 615.72 503.32 617.2 505.6 618.8C507.88 620.4 510.22 622.08 512.5 623.6C514.78 625.12 517.02 626.5 519.3 627.9C521.58 629.3 523.9 630.62 526.2 632C528.5 633.38 530.8 634.87 533.1 636.2C535.4 637.53 536.98 638.37 540 640C543.02 641.63 547.05 644.18 551.2 646C555.35 647.82 560.33 649.52 564.9 650.9C569.47 652.28 574.03 653.28 578.6 654.3C583.17 655.32 587.73 656.25 592.3 657C596.87 657.75 601.43 658.27 606 658.8C610.57 659.33 615.12 659.82 619.7 660.2C624.28 660.58 629.03 660.83 633.5 661.1C637.97 661.37 644.33 661.68 646.5 661.8" stroke-width="6.5"/>
</g>
<rect x="86.1" y="383.1" width="557.4" height="290.2" fill="none" stroke="#000" stroke-width="4.1"/>
<text transform="translate(84.9 702.7) scale(1.02 1)" font-size="36.4" text-anchor="middle">450</text>
<text transform="translate(196.3 702.7) scale(1.02 1)" font-size="36.4" text-anchor="middle">500</text>
<text transform="translate(308.2 702.7) scale(1.02 1)" font-size="36.4" text-anchor="middle">550</text>
<text transform="translate(420 702.7) scale(1.02 1)" font-size="36.4" text-anchor="middle">600</text>
<text transform="translate(531.6 702.7) scale(1.02 1)" font-size="36.4" text-anchor="middle">650</text>
<text transform="translate(643.4 702.7) scale(1.02 1)" font-size="36.4" text-anchor="middle">700</text>
<text transform="translate(222.1 728.8) scale(1.02 1)" font-size="36.3" text-anchor="start">Wavelength / nm</text>
<text transform="translate(39.8 631.9) rotate(-90) scale(1 1)" font-size="36.5" text-anchor="start">Intensity / a.u.</text>
<text transform="translate(581.2 425.6)" font-size="37.2" text-anchor="start">(B)</text>
<text transform="translate(386.1 420.7)" font-size="35.5" text-anchor="start">a</text>
<text transform="translate(353.6 459.9)" font-size="35.5" text-anchor="start">b</text>
<text transform="translate(360.8 517.1)" font-size="35.5" text-anchor="start">c</text>
<text transform="translate(375.6 608.2)" font-size="35.5" text-anchor="start">d</text>
</g>
<g id="plotC">
<g stroke="#b8b8b8" stroke-width="1.1" fill="none">
<path d="M98.4 811.2h9.5 M657.6 811.2h-9.5"/>
<path d="M98.4 869h9.5 M657.6 869h-9.5"/>
<path d="M98.4 927.5h9.5 M657.6 927.5h-9.5"/>
<path d="M98.4 985.8h9.5 M657.6 985.8h-9.5"/>
<path d="M209.6 752.6v9.5 M209.6 1043.2v-9.5"/>
<path d="M322.2 752.6v9.5 M322.2 1043.2v-9.5"/>
<path d="M433.6 752.6v9.5 M433.6 1043.2v-9.5"/>
<path d="M544.6 752.6v9.5 M544.6 1043.2v-9.5"/>
</g>
<g fill="none" stroke="#000" stroke-linejoin="round" clip-path="url(#clipC)">
<path d="M188.3 986.6C191.03 986.67 199.67 986.93 204.7 987C209.73 987.07 213.45 987.18 218.5 987C223.55 986.82 231.17 986.18 235 985.9C238.83 985.62 237.68 985.53 241.5 985.3C245.32 985.07 252.42 984.77 257.9 984.5C263.38 984.23 268.92 983.83 274.4 983.7C279.88 983.57 285.32 983.73 290.8 983.7C296.28 983.67 302.27 983.63 307.3 983.5C312.33 983.37 316.88 983.18 321 982.9C325.12 982.62 328.8 982.25 332 981.8C335.2 981.35 337.95 980.7 340.2 980.2C342.45 979.7 343.55 979.67 345.5 978.8C347.45 977.93 349.7 976.35 351.9 975C354.1 973.65 356.42 972.4 358.7 970.7C360.98 969 363.32 966.7 365.6 964.8C367.88 962.9 370.12 961.13 372.4 959.3C374.68 957.47 377 955.4 379.3 953.8C381.6 952.2 383.92 950.73 386.2 949.7C388.48 948.67 390.72 948 393 947.6C395.28 947.2 397.62 947.18 399.9 947.3C402.18 947.42 404.42 947.68 406.7 948.3C408.98 948.92 411.32 949.97 413.6 951C415.88 952.03 418.12 953.32 420.4 954.5C422.68 955.68 425 956.75 427.3 958.1C429.6 959.45 431.92 961.17 434.2 962.6C436.48 964.03 438.72 965.4 441 966.7C443.28 968 445.62 969.13 447.9 970.4C450.18 971.67 452.42 973.08 454.7 974.3C456.98 975.52 459.3 976.62 461.6 977.7C463.9 978.78 465.95 979.72 468.5 980.8C471.05 981.88 474.37 983.17 476.9 984.2C479.43 985.23 481.42 986.08 483.7 987C485.98 987.92 488.32 988.83 490.6 989.7C492.88 990.57 495.12 991.43 497.4 992.2C499.68 992.97 502 993.62 504.3 994.3C506.6 994.98 508.92 995.67 511.2 996.3C513.48 996.93 515.72 997.52 518 998.1C520.28 998.68 522.62 999.25 524.9 999.8C527.18 1000.35 529.42 1000.9 531.7 1001.4C533.98 1001.9 536.32 1002.35 538.6 1002.8C540.88 1003.25 543.12 1003.68 545.4 1004.1C547.68 1004.52 550 1004.92 552.3 1005.3C554.6 1005.68 556.92 1006.07 559.2 1006.4C561.48 1006.73 562.58 1006.95 566 1007.3C569.42 1007.65 575.12 1008.13 579.7 1008.5C584.28 1008.87 588.12 1009.15 593.5 1009.5C598.88 1009.85 605.92 1010.28 612 1010.6C618.08 1010.92 627 1011.27 630 1011.4" stroke-width="2.9"/>
<path d="M188.3 984.6C189.67 984.47 193.77 984.07 196.5 983.8C199.23 983.53 201.95 983.3 204.7 983C207.45 982.7 210.25 982.47 213 982C215.75 981.53 218.47 980.83 221.2 980.2C223.93 979.57 227.1 978.8 229.4 978.2C231.7 977.6 232.98 977.08 235 976.6C237.02 976.12 239.05 975.83 241.5 975.3C243.95 974.77 246.97 973.97 249.7 973.4C252.43 972.83 255.15 972.33 257.9 971.9C260.65 971.47 263.45 971.13 266.2 970.8C268.95 970.47 271.67 970.12 274.4 969.9C277.13 969.68 279.87 969.78 282.6 969.5C285.33 969.22 288.05 968.6 290.8 968.2C293.55 967.8 296.35 967.37 299.1 967.1C301.85 966.83 304.57 966.83 307.3 966.6C310.03 966.37 312.75 966.07 315.5 965.7C318.25 965.33 321.05 964.97 323.8 964.4C326.55 963.83 329.27 963.22 332 962.3C334.73 961.38 337.95 960.02 340.2 958.9C342.45 957.78 343.55 957.22 345.5 955.6C347.45 953.98 349.7 951.87 351.9 949.2C354.1 946.53 356.42 943.03 358.7 939.6C360.98 936.17 363.47 932.2 365.6 928.6C367.73 925 369.67 921.33 371.5 918C373.33 914.67 374.85 911.6 376.6 908.6C378.35 905.6 380.18 902.53 382 900C383.82 897.47 385.67 895.42 387.5 893.4C389.33 891.38 391.17 889.38 393 887.9C394.83 886.42 396.67 885.3 398.5 884.5C400.33 883.7 402.17 883.1 404 883.1C405.83 883.1 407.67 883.7 409.5 884.5C411.33 885.3 413.17 886.45 415 887.9C416.83 889.35 418.6 891.27 420.5 893.2C422.4 895.13 424.38 897.1 426.4 899.5C428.42 901.9 430.53 904.88 432.6 907.6C434.67 910.32 436.77 913.13 438.8 915.8C440.83 918.47 442.78 920.97 444.8 923.6C446.82 926.23 448.83 928.95 450.9 931.6C452.97 934.25 455.1 937.07 457.2 939.5C459.3 941.93 461.37 944.15 463.5 946.2C465.63 948.25 467.77 949.97 470 951.8C472.23 953.63 474.62 955.47 476.9 957.2C479.18 958.93 481.42 960.53 483.7 962.2C485.98 963.87 488.32 965.73 490.6 967.2C492.88 968.67 495.12 969.77 497.4 971C499.68 972.23 502 973.37 504.3 974.6C506.6 975.83 508.92 977.18 511.2 978.4C513.48 979.62 515.72 980.77 518 981.9C520.28 983.03 522.62 984.15 524.9 985.2C527.18 986.25 529.42 987.17 531.7 988.2C533.98 989.23 536.32 990.37 538.6 991.4C540.88 992.43 543.12 993.45 545.4 994.4C547.68 995.35 550 996.27 552.3 997.1C554.6 997.93 556.92 998.72 559.2 999.4C561.48 1000.08 563.72 1000.63 566 1001.2C568.28 1001.77 570.62 1002.32 572.9 1002.8C575.18 1003.28 577.42 1003.68 579.7 1004.1C581.98 1004.52 584.3 1004.93 586.6 1005.3C588.9 1005.67 591.22 1005.98 593.5 1006.3C595.78 1006.62 597.17 1006.82 600.3 1007.2C603.43 1007.58 608.02 1008.13 612.3 1008.6C616.58 1009.07 621.38 1009.6 626 1010C630.62 1010.4 637.67 1010.83 640 1011" stroke-width="2.9"/>
<path d="M152.5 983.5C154.25 984.35 158.98 987.33 163 988.6C167.02 989.87 171.58 990.63 176.6 991.1C181.62 991.57 187.53 991.32 193.1 991.4C198.67 991.48 204.52 991.68 210 991.6C215.48 991.52 220.65 991.03 226 990.9C231.35 990.77 236.52 990.82 242.1 990.8C247.68 990.78 253.88 990.85 259.5 990.8C265.12 990.75 270.35 990.58 275.8 990.5C281.25 990.42 286.75 990.38 292.2 990.3C297.65 990.22 304.27 990.07 308.5 990C312.73 989.93 314.6 989.97 317.6 989.9C320.6 989.83 323.77 989.73 326.5 989.6C329.23 989.47 331.48 989.33 334 989.1C336.52 988.87 339.43 988.67 341.6 988.2C343.77 987.73 345.4 986.97 347 986.3C348.6 985.63 349.13 985.02 351.2 984.2C353.27 983.38 356.67 982.38 359.4 981.4C362.13 980.42 364.85 979.63 367.6 978.3C370.35 976.97 373.22 974.52 375.9 973.4C378.58 972.28 381.08 972.03 383.7 971.6C386.32 971.17 388.9 970.92 391.6 970.8C394.3 970.68 397.08 970.7 399.9 970.9C402.72 971.1 405.65 971.5 408.5 972C411.35 972.5 414.22 972.73 417 973.9C419.78 975.07 422.45 977.67 425.2 979C427.95 980.33 430.75 980.93 433.5 981.9C436.25 982.87 438.97 983.68 441.7 984.8C444.43 985.92 447.18 987.6 449.9 988.6C452.62 989.6 455.25 990.08 458 990.8C460.75 991.52 463.6 992.03 466.4 992.9C469.2 993.77 472.03 995.27 474.8 996C477.57 996.73 480.25 996.88 483 997.3C485.75 997.72 488.55 998.08 491.3 998.5C494.05 998.92 496.77 999.42 499.5 999.8C502.23 1000.18 504.95 1000.45 507.7 1000.8C510.45 1001.15 513.25 1001.38 516 1001.9C518.75 1002.42 521.47 1003.4 524.2 1003.9C526.93 1004.4 529.67 1004.57 532.4 1004.9C535.13 1005.23 537.73 1005.6 540.6 1005.9C543.47 1006.2 546.8 1006.4 549.6 1006.7C552.4 1007 554.78 1007.38 557.4 1007.7C560.02 1008.02 562.48 1008.32 565.3 1008.6C568.12 1008.88 571.48 1009.13 574.3 1009.4C577.12 1009.67 579.58 1009.95 582.2 1010.2C584.82 1010.45 587.2 1010.7 590 1010.9C592.8 1011.1 595.33 1011.22 599 1011.4C602.67 1011.58 607.5 1011.82 612 1012C616.5 1012.18 621.33 1012.37 626 1012.5C630.67 1012.63 634.33 1012.72 640 1012.8C645.67 1012.88 656.67 1012.97 660 1013" stroke="#e2e2e2" stroke-width="0.9"/>
<path d="M155.1 984.91L156.9 985.89L159.14 987.03L161.47 988.05L163.76 988.83L166.11 989.46L166.4 989.53M179.9 991.31L181.53 991.36L183.6 991.39L185.7 991.39L187.82 991.39L189.94 991.38L191.1 991.38M204.9 991.61L206.88 991.62L208.97 991.61L211.02 991.58L213.05 991.52L215.06 991.43L215.9 991.39M229.1 990.84L230.98 990.82L232.97 990.81L234.96 990.8L236.97 990.8L239 990.8L240.4 990.8M253.7 990.82L256.29 990.82L258.44 990.81L260.55 990.79L262.62 990.76L264.67 990.73L265.4 990.71M278.9 990.46L280.92 990.43L282.97 990.41L285.03 990.39L287.08 990.37L289.13 990.34L290.1 990.33M304.1 990.08L305.89 990.05L307.68 990.01L309.98 989.98L311.88 989.96L313.51 989.95L314.6 989.94M328.9 989.47L330.79 989.36L332.61 989.22L334.48 989.06L336.44 988.88L338.42 988.68L339.6 988.54M353.6 983.34L355.6 982.68L357.26 982.14L358.88 981.58L360.94 980.86L362.98 980.16L364.8 979.5M378.2 972.62L379.82 972.24L381.75 971.91L383.7 971.6L385.66 971.31L387.62 971.08L388 971.04M401.1 971L403.11 971.2L404.73 971.41L406.35 971.65L407.96 971.91L409.57 972.18L411.17 972.43L412.78 972.7L413.1 972.76M426.5 979.58L428.31 980.25L430.39 980.91L432.47 981.55L434.53 982.26L436.58 982.95L438.3 983.53M451.1 989.01L452.93 989.55L454.94 990.05L456.97 990.54L459.04 991.06L461.13 991.55L463.24 992.04L463.4 992.08M476.3 996.35L478.4 996.7L480.44 996.96L482.49 997.22L484.55 997.53L486.63 997.83L488.1 998.03M500.9 999.99L502.57 1000.19L504.62 1000.43L506.67 1000.67L508.73 1000.93L510.81 1001.17L512.89 1001.42L513.3 1001.47M526.9 1004.3L528.81 1004.52L530.86 1004.73L532.91 1004.96L534.94 1005.22L536.96 1005.48L538.3 1005.64M551.5 1006.92L553.57 1007.19L555.47 1007.45L557.4 1007.7L559.34 1007.93L561.27 1008.16L563.25 1008.38L563.5 1008.41M576.9 1009.66L578.81 1009.86L580.74 1010.06L582.69 1010.25L584.6 1010.43L586.51 1010.61L588.46 1010.78L588.7 1010.8M601.6 1011.53L603.54 1011.62L605.19 1011.7L606.88 1011.78L608.59 1011.85L610.3 1011.93L612 1012L613.4 1012.06M626.6 1012.52L628.54 1012.57L630.17 1012.61L631.8 1012.65L633.46 1012.69L635.18 1012.72L637 1012.75L637.9 1012.77M651.6 1012.93L653.7 1012.94L656.27 1012.97L658.42 1012.99L660 1013" stroke-width="6.6" stroke-linecap="round"/>
<path d="M96.4 935C96.73 935.57 97.27 936.47 98.4 938.4C99.53 940.33 101.48 943.97 103.2 946.6C104.92 949.23 106.87 952.02 108.7 954.2C110.53 956.38 112.37 958.4 114.2 959.7C116.03 961 117.87 961.32 119.7 962C121.53 962.68 123.37 963.17 125.2 963.8C127.03 964.43 128.87 964.88 130.7 965.8C132.53 966.72 134.38 968.03 136.2 969.3C138.02 970.57 139.78 972.03 141.6 973.4C143.42 974.77 145.27 976.17 147.1 977.5C148.93 978.83 150.77 980.37 152.6 981.4C154.43 982.43 156.27 983.13 158.1 983.7C159.93 984.27 161.32 984.58 163.6 984.8C165.88 985.02 169.07 985.07 171.8 985C174.53 984.93 177.25 984.62 180 984.4C182.75 984.18 185.55 984.05 188.3 983.7C191.05 983.35 193.77 982.78 196.5 982.3C199.23 981.82 201.95 981.45 204.7 980.8C207.45 980.15 210.25 979.33 213 978.4C215.75 977.47 218.47 976.35 221.2 975.2C223.93 974.05 227.1 972.53 229.4 971.5C231.7 970.47 232.98 969.93 235 969C237.02 968.07 239.05 967 241.5 965.9C243.95 964.8 246.97 963.55 249.7 962.4C252.43 961.25 255.15 960.05 257.9 959C260.65 957.95 263.45 956.92 266.2 956.1C268.95 955.28 271.67 954.78 274.4 954.1C277.13 953.42 279.87 952.68 282.6 952C285.33 951.32 288.05 950.62 290.8 950C293.55 949.38 296.35 948.73 299.1 948.3C301.85 947.87 304.57 947.82 307.3 947.4C310.03 946.98 312.75 946.52 315.5 945.8C318.25 945.08 321.05 944.23 323.8 943.1C326.55 941.97 329.27 940.72 332 939C334.73 937.28 337.95 934.92 340.2 932.8C342.45 930.68 343.78 928.72 345.5 926.3C347.22 923.88 348.75 921.48 350.5 918.3C352.25 915.12 354.17 911.32 356 907.2C357.83 903.08 359.68 898.42 361.5 893.6C363.32 888.78 365.08 883.8 366.9 878.3C368.72 872.8 370.57 866.52 372.4 860.6C374.23 854.68 376.07 848.32 377.9 842.8C379.73 837.28 381.57 832.33 383.4 827.5C385.23 822.67 387.07 817.57 388.9 813.8C390.73 810.03 392.57 807.07 394.4 804.9C396.23 802.73 398.07 801.65 399.9 800.8C401.73 799.95 403.58 799.73 405.4 799.8C407.22 799.87 408.98 800.23 410.8 801.2C412.62 802.17 414.47 803.62 416.3 805.6C418.13 807.58 419.97 810.25 421.8 813.1C423.63 815.95 425.47 819.27 427.3 822.7C429.13 826.13 430.97 829.92 432.8 833.7C434.63 837.48 436.47 841.52 438.3 845.4C440.13 849.28 441.97 853.12 443.8 857C445.63 860.88 447.48 864.77 449.3 868.7C451.12 872.63 452.88 876.98 454.7 880.6C456.52 884.22 458.37 887.17 460.2 890.4C462.03 893.63 463.93 897 465.7 900C467.47 903 468.95 905.47 470.8 908.4C472.65 911.33 474.7 914.57 476.8 917.6C478.9 920.63 481.1 923.62 483.4 926.6C485.7 929.58 488.27 932.83 490.6 935.5C492.93 938.17 495.12 940.43 497.4 942.6C499.68 944.77 502 946.52 504.3 948.5C506.6 950.48 508.92 952.52 511.2 954.5C513.48 956.48 515.72 958.48 518 960.4C520.28 962.32 522.65 964.23 524.9 966C527.15 967.77 529.22 969.23 531.5 971C533.78 972.77 536.32 974.93 538.6 976.6C540.88 978.27 542.92 979.5 545.2 981C547.48 982.5 549.97 984.2 552.3 985.6C554.63 987 556.92 988.2 559.2 989.4C561.48 990.6 563.72 991.73 566 992.8C568.28 993.87 570.62 994.87 572.9 995.8C575.18 996.73 577.42 997.6 579.7 998.4C581.98 999.2 584.3 999.87 586.6 1000.6C588.9 1001.33 591.22 1002.13 593.5 1002.8C595.78 1003.47 597.17 1003.87 600.3 1004.6C603.43 1005.33 608.02 1006.4 612.3 1007.2C616.58 1008 621.43 1008.8 626 1009.4C630.57 1010 634.03 1010.33 639.7 1010.8C645.37 1011.27 656.62 1011.97 660 1012.2" stroke-width="6.5"/>
</g>
<rect x="98.4" y="752.6" width="559.2" height="290.6" fill="none" stroke="#000" stroke-width="4.1"/>
<text transform="translate(99.5 1073.7) scale(1.02 1)" font-size="36.4" text-anchor="middle">450</text>
<text transform="translate(212.2 1073.7) scale(1.02 1)" font-size="36.4" text-anchor="middle">500</text>
<text transform="translate(323.8 1073.7) scale(1.02 1)" font-size="36.4" text-anchor="middle">550</text>
<text transform="translate(435.4 1073.7) scale(1.02 1)" font-size="36.4" text-anchor="middle">600</text>
<text transform="translate(546.8 1073.7) scale(1.02 1)" font-size="36.4" text-anchor="middle">650</text>
<text transform="translate(660 1073.7) scale(1.02 1)" font-size="36.4" text-anchor="middle">700</text>
<text transform="translate(235.8 1098.3) scale(1.02 1)" font-size="36.3" text-anchor="start">Wavelength / nm</text>
<text transform="translate(53.6 1001.9) rotate(-90) scale(1 1)" font-size="36.5" text-anchor="start">Intensity / a.u.</text>
<text transform="translate(595 796.3)" font-size="37.2" text-anchor="start">(C)</text>
<text transform="translate(441.5 805)" font-size="35.5" text-anchor="start">a</text>
<text transform="translate(393.5 860.5)" font-size="35.5" text-anchor="start">b</text>
<text transform="translate(399.4 934.9)" font-size="35.5" text-anchor="start">c</text>
<text transform="translate(387 1017)" font-size="35.5" text-anchor="start">d</text>
</g>
<g id="dtext">
<text transform="translate(709.4 34.6) scale(1.01 1)" font-size="27.6" text-anchor="start">DFPPY</text>
<text transform="translate(709.4 72.8) scale(1.01 1)" font-size="27.6" text-anchor="start">PPY</text>
<text transform="translate(709.4 108.3) scale(1.01 1)" font-size="27.6" text-anchor="start">PIQ</text>
<text transform="translate(838.4 68) scale(1.01 1)" font-size="27.6" text-anchor="start">SAP</text>
<text transform="translate(709.8 415.5) scale(1.01 1)" font-size="27.6" text-anchor="start">PPY</text>
<text transform="translate(709.8 453.8) scale(1.01 1)" font-size="27.6" text-anchor="start">DFPPY</text>
<text transform="translate(709.8 492.8) scale(1.01 1)" font-size="27.6" text-anchor="start">PIQ</text>
<text transform="translate(830.2 438.8) scale(1.01 1)" font-size="27.6" text-anchor="start">SAP</text>
<g clip-path="url(#clipD)"><text transform="translate(707.9 856.9) scale(1.02 1)" font-size="27.6" text-anchor="start">DFPPY,PPY,PIQ</text></g>
<text transform="translate(961.4 870.3) scale(1.01 1)" font-size="27.6" text-anchor="start">SAP</text>
</g>
</g>
<g id="boxes" stroke="#4a4a4a" stroke-width="1.3" fill="none">
<rect x="659.6" y="119.7" width="188" height="17.4" fill="none"/>
<rect x="697.7" y="116.4" width="110.7" height="3.3" fill="none"/>
<rect x="697.7" y="85.7" width="110.2" height="26.5" fill="none"/>
<rect x="697.7" y="78.3" width="106.8" height="7.4" fill="none"/>
<rect x="697.7" y="48.2" width="106.8" height="30.1" fill="none"/>
<rect x="697.7" y="39.1" width="106.8" height="9.1" fill="none"/>
<rect x="697.7" y="9.7" width="106.8" height="29.4" fill="none"/>
<rect x="659.6" y="502.3" width="190.1" height="17.7" fill="none"/>
<rect x="698.7" y="498" width="112.3" height="4.3" fill="none"/>
<rect x="698.7" y="467.6" width="108.2" height="30.4" fill="none"/>
<rect x="698.7" y="459.7" width="108.2" height="7.9" fill="none"/>
<rect x="698.7" y="428.6" width="108.2" height="31.1" fill="none"/>
<rect x="698.7" y="421.1" width="108.2" height="7.5" fill="none"/>
<rect x="698.7" y="389.9" width="108.2" height="31.2" fill="none"/>
<rect x="689.7" y="864.5" width="271.1" height="28.7" fill="none"/>
<rect x="697.5" y="827.3" width="244.5" height="37" fill="none"/>
<rect x="697.5" y="856.3" width="243" height="8" fill="none"/>
</g>
<g id="arrows">
<path d="M827.8 58.4L814.69 49.84" stroke="#111" stroke-width="1.15" fill="none"/><path d="M805.9 44.1L816.66 46.83L812.72 52.86Z" fill="#000"/>
<path d="M820.2 74.2L813.49 77.16" stroke="#111" stroke-width="1.15" fill="none"/><path d="M804.8 81L812.08 73.96L814.9 80.36Z" fill="#000"/>
<path d="M847.5 82L816.54 108.04" stroke="#111" stroke-width="1.15" fill="none"/><path d="M808.5 114.8L814.15 105.21L818.92 110.87Z" fill="#000"/>
<path d="M813.1 429.5L821.8 425.4L821.8 433.6Z" fill="#000"/>
<path d="M836 444L799.5 461" stroke="#111" stroke-width="1.15" fill="none"/>
<path d="M796.4 459.3L791.2 466.4L802.1 466.4Z" fill="#000"/>
<path d="M836 466.5L821.32 488.56" stroke="#111" stroke-width="1.15" fill="none"/><path d="M815.5 497.3L818.24 486.51L824.4 490.61Z" fill="#000"/>
</g>
</svg>
</body></html>
